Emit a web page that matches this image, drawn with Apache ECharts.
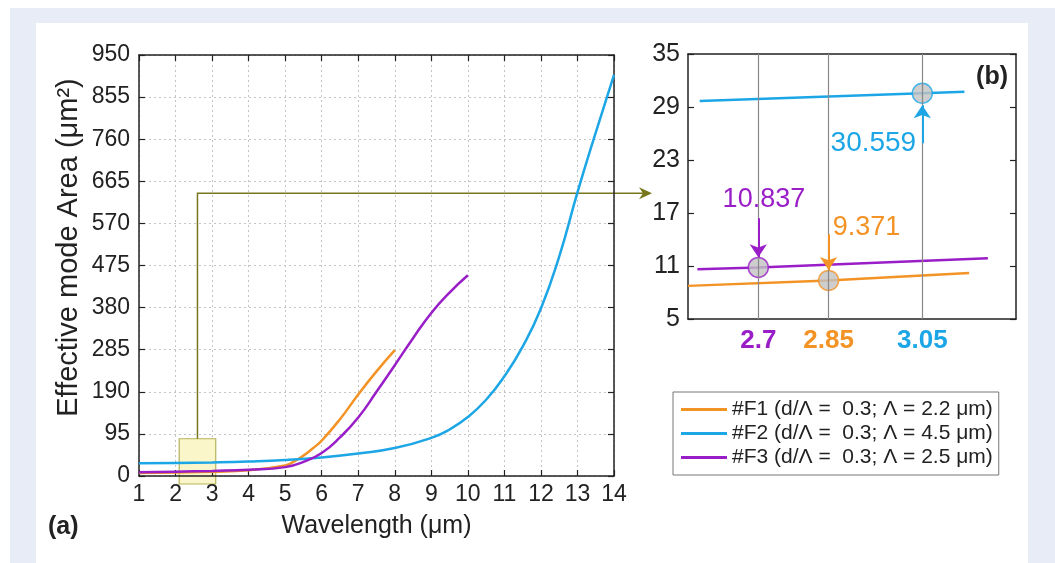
<!DOCTYPE html>
<html>
<head>
<meta charset="utf-8">
<script src="https://cdn.jsdelivr.net/npm/echarts@6/dist/echarts.min.js"></script>
<style>
body { margin: 0; background: #fff; }
#frame { position: absolute; left: 10px; top: 8px; width: 1045px; height: 555px; background: #e8ecf6; }
#panel { position: absolute; left: 36px; top: 23px; width: 992px; height: 540px; background: #fff; }
#main { position: absolute; left: 0; top: 0; width: 1055px; height: 563px; }
</style>
</head>
<body>
<div id="frame"></div>
<div id="panel"></div>
<div id="main"></div>
<script>
// main plot (a): wavelength (um) vs effective mode area (um^2)
var f1X = [1, 2, 3, 4, 5, 5.25, 5.5, 5.75, 6, 6.5, 7, 7.5, 8];
var f1Y = [7, 8, 9.7, 13, 24, 33, 46, 62, 80, 128, 184, 236, 284];
var f2X = [1, 2, 3, 4, 5, 6, 7, 8, 9, 9.5, 10, 10.5, 11, 11.5, 12, 12.5, 13, 13.5, 14];
var f2Y = [28.5, 29.5, 30.5, 32.5, 36, 42, 51, 63, 86, 105, 133, 172, 225, 292, 378, 495, 640, 775, 905];
var f3X = [1, 2, 3, 4, 5, 5.5, 6, 6.5, 7, 7.5, 8, 8.5, 9, 9.5, 10];
var f3Y = [8.5, 9.8, 11.5, 14, 20, 32, 52, 87, 132, 190, 250, 311, 368, 414, 453];

// inset (b)
var inF1X = [2.55, 2.85, 3.15];
var inF1Y = [8.75, 9.371, 10.2];
var inF2X = [2.575, 3.05, 3.14];
var inF2Y = [29.68, 30.559, 30.72];
var inF3X = [2.57, 2.7, 3.19];
var inF3Y = [10.64, 10.837, 11.88];
var markX = [2.7, 2.85, 3.05];
var markY = [10.837, 9.371, 30.559];
var markText = ['10.837', '9.371', '30.559'];

var names = ['#F1 (d/\u039b =  0.3; \u039b = 2.2 \u03bcm)',
             '#F2 (d/\u039b =  0.3; \u039b = 4.5 \u03bcm)',
             '#F3 (d/\u039b =  0.3; \u039b = 2.5 \u03bcm)'];
var cOrange = '#f39325', cBlue = '#1ca6e6', cPurple = '#9a1ec8', cOlive = '#77761c';
var markColors = [cPurple, cOrange, cBlue];
var font = 'Liberation Sans, Arial, sans-serif';

function pairs(xs, ys) {
    return xs.map(function (x, i) { return [x, ys[i]]; });
}

var axisLine = { show: true, onZero: false, lineStyle: { color: '#222', width: 1.5 } };
var tickIn = { show: true, inside: true, length: 6, lineStyle: { color: '#222', width: 1.2 } };
var dotted = { show: true, lineStyle: { color: '#c4c4c4', type: [2, 3], width: 1 } };

var chart = echarts.init(document.getElementById('main'));
var option = {
    animation: false,
    textStyle: { fontFamily: font },
    grid: [
        { left: 139, top: 55, width: 475, height: 421 },
        { left: 688, top: 54, width: 328, height: 265 }
    ],
    legend: {
        data: names,
        orient: 'vertical',
        left: 673,
        top: 392,
        padding: [7, 6, 7, 8],
        itemGap: 3,
        itemWidth: 46,
        itemHeight: 3,
        icon: 'rect',
        borderColor: '#777',
        borderWidth: 1,
        selectedMode: false,
        textStyle: { fontSize: 21, color: '#222', fontFamily: font }
    },
    xAxis: [
        {
            gridIndex: 0, type: 'value', min: 1, max: 14, interval: 1, position: 'bottom',
            axisLine: axisLine, axisTick: tickIn,
            axisLabel: { fontSize: 23, color: '#222', margin: 7 },
            splitLine: dotted,
            name: 'Wavelength (\u03bcm)', nameLocation: 'middle', nameGap: 38,
            nameTextStyle: { fontSize: 25, color: '#222' }
        },
        {
            gridIndex: 0, type: 'value', min: 1, max: 14, interval: 1, position: 'top',
            axisLine: axisLine, axisTick: tickIn, axisLabel: { show: false }, splitLine: { show: false }
        },
        {
            gridIndex: 1, type: 'value', min: 2.55, max: 3.25, position: 'bottom',
            axisLine: axisLine, axisTick: { show: false },
            axisLabel: {
                customValues: markX, margin: 9,
                formatter: function (v) {
                    var i = markX.indexOf(v);
                    return '{c' + i + '|' + v + '}';
                },
                rich: {
                    c0: { color: cPurple, fontSize: 26, fontWeight: 'bold' },
                    c1: { color: cOrange, fontSize: 26, fontWeight: 'bold' },
                    c2: { color: cBlue, fontSize: 26, fontWeight: 'bold' }
                }
            },
            splitLine: { show: false }
        },
        {
            gridIndex: 1, type: 'value', min: 2.55, max: 3.25, position: 'top',
            axisLine: axisLine, axisTick: { show: false }, axisLabel: { show: false }, splitLine: { show: false }
        }
    ],
    yAxis: [
        {
            gridIndex: 0, type: 'value', min: 0, max: 950, interval: 95,
            axisLine: axisLine, axisTick: tickIn,
            axisLabel: { fontSize: 23, color: '#222', margin: 9 },
            splitLine: dotted,
            name: 'Effective mode Area (\u03bcm\u00b2)', nameLocation: 'middle', nameGap: 56,
            nameTextStyle: { fontSize: 29, color: '#222', padding: [0, 0, 0, 36] }
        },
        {
            gridIndex: 0, type: 'value', min: 0, max: 950, interval: 95, position: 'right',
            axisLine: axisLine, axisTick: tickIn, axisLabel: { show: false }, splitLine: { show: false }
        },
        {
            gridIndex: 1, type: 'value', min: 5, max: 35, interval: 6,
            axisLine: axisLine, axisTick: tickIn,
            axisLabel: { fontSize: 25, color: '#222', margin: 8 },
            splitLine: { show: false }
        },
        {
            gridIndex: 1, type: 'value', min: 5, max: 35, interval: 6, position: 'right',
            axisLine: axisLine, axisTick: tickIn, axisLabel: { show: false }, splitLine: { show: false }
        }
    ],
    series: [
        { name: names[0], type: 'line', smooth: 0.5, symbol: 'none', data: pairs(f1X, f1Y),
          color: cOrange, lineStyle: { width: 2.5 } },
        { name: names[1], type: 'line', smooth: 0.5, symbol: 'none', data: pairs(f2X, f2Y),
          color: cBlue, lineStyle: { width: 2.5 } },
        { name: names[2], type: 'line', smooth: 0.5, symbol: 'none', data: pairs(f3X, f3Y),
          color: cPurple, lineStyle: { width: 2.5 } },
        { name: 'inF1', type: 'line', xAxisIndex: 2, yAxisIndex: 2, symbol: 'none',
          data: pairs(inF1X, inF1Y), color: cOrange, lineStyle: { width: 2.5 }, z: 3 },
        { name: 'inF2', type: 'line', xAxisIndex: 2, yAxisIndex: 2, symbol: 'none',
          data: pairs(inF2X, inF2Y), color: cBlue, lineStyle: { width: 2.5 }, z: 3 },
        { name: 'inF3', type: 'line', xAxisIndex: 2, yAxisIndex: 2, symbol: 'none',
          data: pairs(inF3X, inF3Y), color: cPurple, lineStyle: { width: 2.5 }, z: 3 },
        {
            name: 'marks', type: 'scatter', xAxisIndex: 2, yAxisIndex: 2, symbolSize: 20, z: 4,
            data: markX.map(function (x, i) {
                return { value: [x, markY[i]], itemStyle: { color: '#c2c2c2', borderColor: markColors[i], borderWidth: 1.5 } };
            })
        },
        {
            // vertical guide lines in the inset
            name: 'guides', type: 'line', xAxisIndex: 2, yAxisIndex: 2, data: [], z: 1,
            markLine: {
                silent: true, symbol: 'none', label: { show: false },
                lineStyle: { color: '#888', type: 'solid', width: 1.2 },
                data: markX.map(function (x) { return { xAxis: x }; })
            }
        },
        {
            // arrows pointing to the marked values
            name: 'arrows', type: 'line', xAxisIndex: 2, yAxisIndex: 2, data: [], z: 5,
            markLine: {
                silent: true, symbolSize: 13, label: { show: false },
                data: [
                    [{ coord: [2.7, 16.4], symbol: 'none', lineStyle: { color: cPurple, width: 2, type: 'solid' } },
                     { coord: [2.7, 12.0], symbol: 'arrow' }],
                    [{ coord: [2.85, 14.6], symbol: 'none', lineStyle: { color: cOrange, width: 2, type: 'solid' } },
                     { coord: [2.85, 10.55], symbol: 'arrow' }],
                    [{ coord: [3.05, 24.9], symbol: 'none', lineStyle: { color: cBlue, width: 2, type: 'solid' } },
                     { coord: [3.05, 29.2], symbol: 'arrow' }]
                ]
            }
        }
    ]
};
chart.setOption(option);

// annotations placed through the axes
function pm(p) { return chart.convertToPixel({ seriesIndex: 0 }, p); }
function pi(p) { return chart.convertToPixel({ seriesIndex: 3 }, p); }

var r0 = pm([2.1, 84]), r1 = pm([3.1, -18]);
var l0 = pm([2.6, 84]), l1 = pm([2.6, 638]), l2 = pm([15.04, 638]);
var t0 = pi([2.712, 18.47]), t1 = pi([2.859, 15.3]), t2 = pi([3.037, 24.9]);

chart.setOption({
    graphic: [
        { type: 'rect', z: 0, shape: { x: r0[0], y: r0[1], width: r1[0] - r0[0], height: r1[1] - r0[1] },
          style: { fill: '#fbf6c9', stroke: '#b5b35a', lineWidth: 1.2 } },
        { type: 'polyline', z: 0, shape: { points: [l0, l1, [l2[0] - 6, l2[1]]] },
          style: { stroke: cOlive, lineWidth: 1.5, fill: null } },
        { type: 'polygon', z: 0, shape: { points: [l2, [l2[0] - 13, l2[1] - 6], [l2[0] - 9, l2[1]], [l2[0] - 13, l2[1] + 6]] },
          style: { fill: cOlive } },
        { type: 'text', z: 6, x: t0[0], y: t0[1],
          style: { text: markText[0], fill: cPurple, font: '27px ' + font, align: 'center', verticalAlign: 'middle' } },
        { type: 'text', z: 6, x: t1[0], y: t1[1],
          style: { text: markText[1], fill: cOrange, font: '27px ' + font, align: 'left', verticalAlign: 'middle' } },
        { type: 'text', z: 6, x: t2[0], y: t2[1],
          style: { text: markText[2], fill: cBlue, font: '28px ' + font, align: 'right', verticalAlign: 'middle' } },
        { type: 'text', z: 6, x: 48, y: 527,
          style: { text: '(a)', fill: '#222', font: 'bold 25px ' + font, align: 'left', verticalAlign: 'middle' } },
        { type: 'text', z: 6, x: 1008, y: 77,
          style: { text: '(b)', fill: '#222', font: 'bold 25px ' + font, align: 'right', verticalAlign: 'middle' } }
    ]
});
</script>
</body>
</html>
